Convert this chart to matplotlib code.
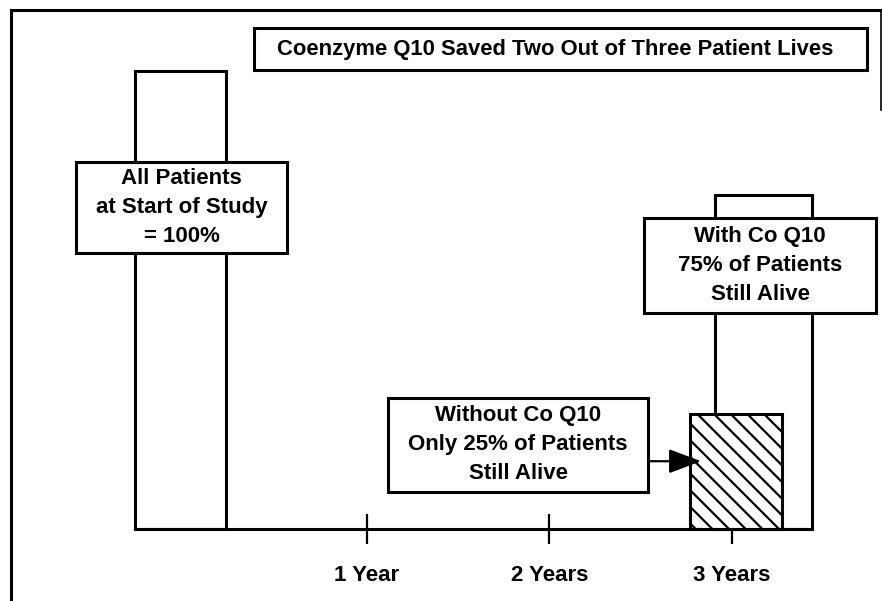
import matplotlib
matplotlib.use("Agg")
import matplotlib.pyplot as plt
from matplotlib.patches import Rectangle
from matplotlib.lines import Line2D

# survival bars (percent of patients alive)
bar_x = [-0.02, 3.17]
bar_w = [0.50, 0.53]
bar_vals = [100, 73]          # start of study, with Co Q10 at 3 years
hatch_x = 3.02
hatch_w = 0.50
hatch_val = 25                # without Co Q10 at 3 years

tick_pos = [1, 2, 3]
tick_labels = ["1 Year", "2 Years", "3 Years"]

title = "Coenzyme Q10 Saved Two Out of Three Patient Lives"
note_start = "All Patients\nat Start of Study\n= 100%"
note_with = "With Co Q10\n75% of Patients\nStill Alive"
note_without = "Without Co Q10\nOnly 25% of Patients\nStill Alive"

plt.rcParams["font.family"] = ["Liberation Sans", "DejaVu Sans"]
plt.rcParams["font.weight"] = "bold"
plt.rcParams["hatch.linewidth"] = 1.6

fig = plt.figure(figsize=(8.82, 6.01), dpi=100)
ax = fig.add_axes([0, 0, 1, 1])
ax.set_xlim(-1.007, 3.820)
ax.set_ylim(-15.72, 115.5)

lw = 2.2
ax.bar(bar_x, bar_vals, width=bar_w, color="white", edgecolor="black",
       linewidth=lw, zorder=2)
ax.bar([hatch_x], [hatch_val], width=hatch_w, color="white", edgecolor="black",
       linewidth=lw, hatch="\\\\", zorder=3)

# baseline + year ticks
for s in ["top", "left", "right"]:
    ax.spines[s].set_visible(False)
ax.spines["bottom"].set_position(("data", 0))
ax.spines["bottom"].set_linewidth(lw)
ax.spines["bottom"].set_bounds(bar_x[0] - bar_w[0] / 2, bar_x[1] + bar_w[1] / 2)
ax.spines["bottom"].set_zorder(4)
ax.set_yticks([])
ax.set_xticks(tick_pos)
ax.set_xticklabels(tick_labels, fontsize=16, fontweight="bold")
ax.tick_params(axis="x", direction="inout", length=22, width=1.6, pad=15)


def note(x0, x1, y0, y1, text, size, dx=0.0):
    ax.add_patch(Rectangle((x0, y0), x1 - x0, y1 - y0, facecolor="white",
                           edgecolor="black", linewidth=lw, zorder=5))
    ax.text((x0 + x1) / 2 + dx, (y0 + y1) / 2, text, ha="center", va="center",
            fontsize=size, fontweight="bold", linespacing=1.5, zorder=6)


note(0.383, 3.738, 100.2, 109.4, title, 15.8, dx=-0.03)
note(-0.591, 0.564, 60.3, 80.1, note_start, 16)
note(2.518, 3.788, 47.2, 67.9, note_with, 16)
note(1.117, 2.540, 8.1, 28.6, note_without, 16)

ax.annotate("", xy=(2.83, 14.8), xytext=(2.540, 14.8),
            arrowprops=dict(arrowstyle="-|>,head_length=2.0,head_width=0.75",
                            color="black", lw=1.6, shrinkA=0, shrinkB=0),
            zorder=7)

# page frame
fig.add_artist(Line2D([0.0125, 0.0125], [0.0, 0.983], color="black", lw=lw))
fig.add_artist(Line2D([0.0125, 1.0], [0.983, 0.983], color="black", lw=lw))
fig.add_artist(Line2D([0.9985, 0.9985], [0.983, 0.817], color="black", lw=1.2))

fig.savefig("out.png", dpi=100, facecolor="white")
